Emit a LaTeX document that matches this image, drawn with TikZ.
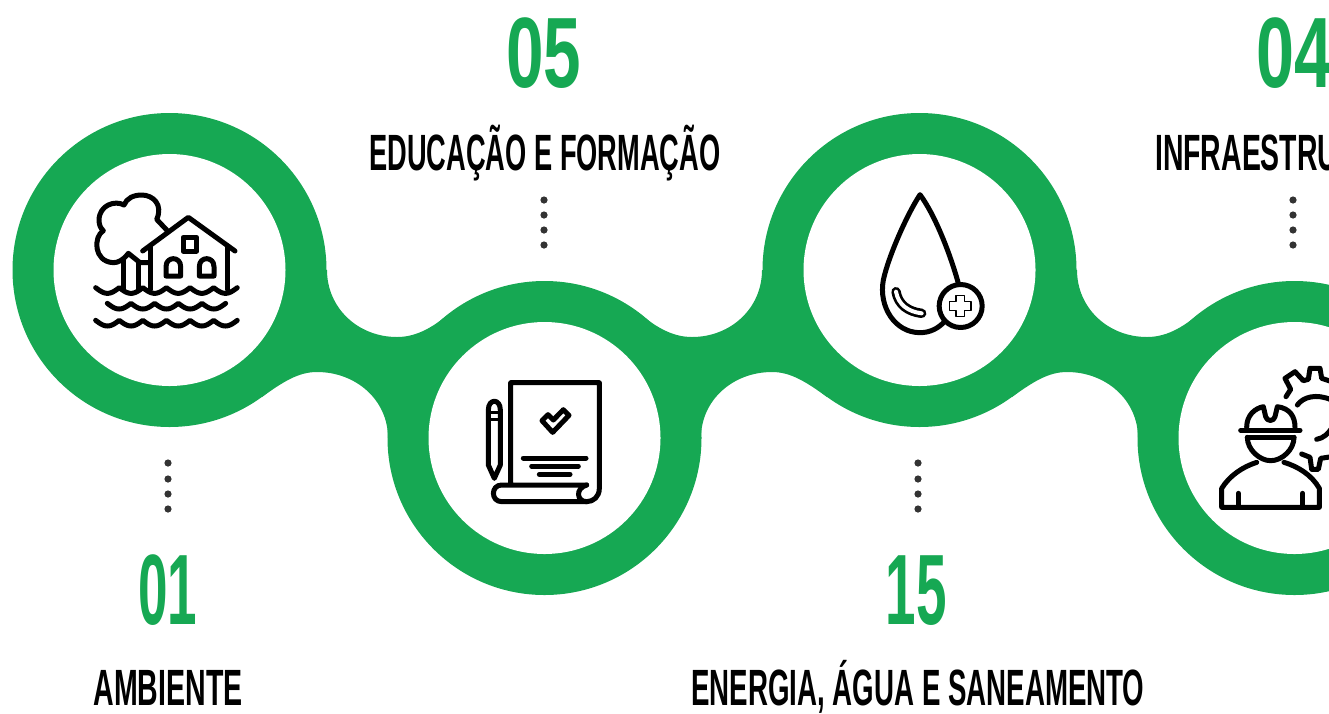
\documentclass[tikz,border=0pt]{standalone}
\usepackage{fontspec}
\usepackage{graphicx}
\setmainfont{Liberation Sans}
\definecolor{ringgreen}{HTML}{16A853}
\definecolor{dotgrey}{HTML}{333333}
\newcommand{\bignum}[2]{\resizebox{#1pt}{\height}{\fontsize{100}{100}\selectfont\bfseries #2}}
\newcommand{\biglab}[2]{\resizebox{#1pt}{\height}{\fontsize{51}{51}\selectfont\bfseries #2}}
\tikzset{
  disc/.style={circle,fill=ringgreen,inner sep=0pt,minimum size=314pt},
  hole/.style={circle,fill=white,inner sep=0pt,minimum size=232pt},
  bridge/.style={fill=ringgreen},
  numlabel/.style={anchor=base,inner sep=0pt,text=ringgreen},
  toplabel/.style={anchor=base,inner sep=0pt,text=black},
  icon/.style={draw=black,line width=5pt,line cap=round,line join=round},
  thin icon/.style={draw=black,line width=1.3pt,line join=round},
  dotmark/.style={fill=dotgrey},
  zoomed/.style={x=0.33333pt,y=-0.33333pt}
}
\begin{document}
\begin{tikzpicture}[x=1pt,y=-1pt]
\useasboundingbox (0,0) rectangle (1329,713);
\clip (0,0) rectangle (1329,713);
\node[disc] (c1) at (169.5,270) {};
\node[disc] (c2) at (544.5,438) {};
\node[disc] (c3) at (919.5,270) {};
\node[disc] (c4) at (1294.5,438) {};
% bridges
\path[bridge] (327,270) .. controls (327,308) and (358,337) .. (397,337) .. controls (416,337) and (432,328) .. (450,313) -- (544,438) -- (388,438) .. controls (388,400) and (356,372) .. (317,372) .. controls (299,372) and (284,381) .. (262,397) -- (169,270) -- cycle;
\path[bridge] (762,270) .. controls (762,308) and (731,337) .. (692,337) .. controls (673,337) and (657,328) .. (639,313) -- (545,438) -- (701,438) .. controls (701,400) and (733,372) .. (772,372) .. controls (790,372) and (805,381) .. (827,397) -- (920,270) -- cycle;
\path[bridge] (1077,270) .. controls (1077,308) and (1108,337) .. (1147,337) .. controls (1166,337) and (1182,328) .. (1200,313) -- (1294,438) -- (1138,438) .. controls (1138,400) and (1106,372) .. (1067,372) .. controls (1049,372) and (1034,381) .. (1012,397) -- (919,270) -- cycle;
\node[hole] (h1) at (169.5,270) {};
\node[hole] (h2) at (544.5,438) {};
\node[hole] (h3) at (919.5,270) {};
\node[hole] (h4) at (1294.5,438) {};
% dots
\foreach \px/\py in {168/463,168/479,168/494,168/509,544/200,544/215,544/230,544/245,918/463,918/479,918/494,918/509,1293/200,1293/215,1293/230,1293/245}
  \fill[dotmark] (\px,\py) circle (3.6pt);
% labels
\node[numlabel] (n05) at (544,87.5) {\bignum{75}{05}};
\node[numlabel] (n04) at (1294,87.5) {\bignum{76}{04}};
\node[numlabel] (n01) at (168,624) {\bignum{59}{01}};
\node[numlabel] (n15) at (916,624) {\bignum{61}{15}};
\node[toplabel] (l05) at (545,170.5) {\biglab{351}{EDUCAÇÃO E FORMAÇÃO}};
\node[toplabel,anchor=base west] (l04) at (1155,170.5) {\biglab{262}{INFRAESTRUTURA}};
\node[toplabel] (l01) at (168,705.5) {\biglab{149}{AMBIENTE}};
\node[toplabel] (l15) at (918,705.5) {\biglab{453}{ENERGIA, ÁGUA E SANEAMENTO}};
% icon 1: flood
\begin{scope}[shift={(60,170)},zoomed]
\draw[icon] (322,182) -- (290,148) .. controls (310,105) and (280,75) .. (245,75) .. controls (220,75) and (200,85) .. (192,105) .. controls (165,90) and (118,105) .. (117,150) .. controls (117,165) and (122,175) .. (130,182) .. controls (100,200) and (100,275) .. (160,278) .. controls (175,278) and (190,270) .. (205,250) -- (240,278) -- (268,278);
\draw[icon] (190,270) -- (190,358);
\draw[icon] (235,280) -- (235,358);
\draw[icon] (248,243) -- (385,142) -- (525,243);
\draw[icon] (272,228) -- (272,358);
\draw[icon] (502,228) -- (502,358);
\draw[icon] (369,202) rectangle (410,243);
\draw[icon] (318,318) -- (318,290) .. controls (318,258) and (362,258) .. (362,290) -- (362,318) -- cycle;
\draw[icon] (418,318) -- (418,290) .. controls (418,258) and (462,258) .. (462,290) -- (462,318) -- cycle;
\draw[icon] plot[domain=0:6,samples=145,smooth] ({107+70.8*\x},{353+17*abs(sin(180*\x))});
\draw[icon] plot[domain=0:5,samples=121,smooth] ({142+71*\x},{400+17*abs(sin(180*\x))});
\draw[icon] plot[domain=0:6,samples=145,smooth] ({107+70.8*\x},{451+17*abs(sin(180*\x))});
\end{scope}
% icon 2: document
\begin{scope}[shift={(460,360)},zoomed]
\draw[icon] (152,368) -- (152,68) -- (418,68) -- (418,385) .. controls (418,410) and (400,425) .. (380,425) -- (125,425) .. controls (92,425) and (92,375) .. (125,375) -- (380,375);
\draw[icon] (380,375) .. controls (345,385) and (350,425) .. (380,425);
\draw[icon] (85,150) .. controls (85,115) and (121,115) .. (121,150) -- (121,315) -- (103,355) -- (85,315) -- cycle;
\draw[icon,line width=2.6pt] (85,158) -- (121,158);
\draw[icon,line width=2.6pt] (85,178) -- (121,178);
\draw[icon] (246,182) -- (264,164) -- (280,180) -- (310,149) -- (327,166) -- (278,217) -- cycle;
\draw[icon,line width=5pt] (190,294) -- (378,294);
\draw[icon,line width=5pt] (215,318) -- (355,318);
\draw[icon,line width=5pt] (238,343) -- (330,343);
\end{scope}
% icon 3: drop
\begin{scope}[shift={(850,180)},zoomed]
\draw[icon] (325,310) .. controls (300,220) and (255,105) .. (210,44) .. controls (170,105) and (115,230) .. (100,300) .. controls (85,380) and (135,458) .. (210,458) .. controls (240,458) and (265,445) .. (283,425);
\draw[icon,line width=9.4pt] (138,335) .. controls (145,375) and (175,395) .. (215,400);
\draw[draw=white,line cap=round,line width=4pt] (138,335) .. controls (145,375) and (175,395) .. (215,400);
\draw[icon,fill=white] (332,378) circle (21.5pt);
\draw[thin icon] (318,347) -- (344,347) -- (344,365) -- (363,365) -- (363,391) -- (344,391) -- (344,410) -- (318,410) -- (318,391) -- (299,391) -- (299,365) -- (318,365) -- cycle;
\end{scope}
% icon 4: worker
\begin{scope}[shift={(1200,350)},zoomed]
\draw[icon] (140,232) .. controls (140,195) and (165,175) .. (190,170) -- (197,200) .. controls (200,215) and (222,215) .. (225,200) -- (232,170) .. controls (270,175) and (285,200) .. (285,232);
\draw[icon] (122,241) -- (300,241);
\draw[icon] (142,262) -- (282,262);
\draw[icon] (142,262) .. controls (142,300) and (180,332) .. (212,332) .. controls (245,332) and (282,300) .. (282,262);
\draw[icon] (170,337) .. controls (130,350) and (90,375) .. (65,415) -- (65,472) -- (358,472) -- (358,415) .. controls (335,375) and (295,350) .. (252,337);
\draw[icon] (115,430) -- (115,470);
\draw[icon] (308,430) -- (308,470);
\draw[icon] (258,140) -- (272,118) -- (255,85) -- (285,65) -- (310,92) -- (325,88) -- (330,55) -- (360,55) -- (365,85) -- (395,95);
\draw[icon] (305,312) -- (330,322) -- (335,358) -- (355,358) -- (362,325) -- (395,320);
\draw[icon] (292,165) .. controls (310,140) and (350,130) .. (395,150);
\draw[icon] (350,268) .. controls (370,265) and (385,250) .. (395,235);
\end{scope}
\end{tikzpicture}
\end{document}
